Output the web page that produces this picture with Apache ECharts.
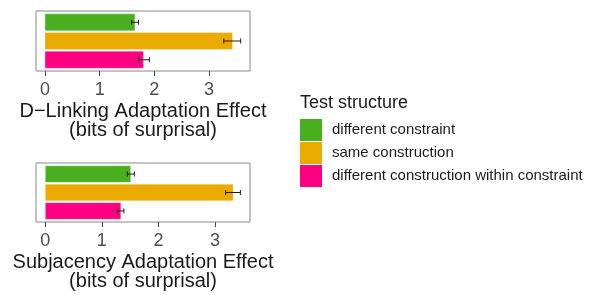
<!DOCTYPE html>
<html>
<head>
<meta charset="utf-8">
<title>Adaptation effect</title>
<script src="https://cdn.jsdelivr.net/npm/echarts@6/dist/echarts.min.js"></script>
<style>
  html,body{margin:0;padding:0;background:#fff}
  #main{width:590px;height:295px}
</style>
</head>
<body>
<div id="main"></div>
<script>
// test structures (legend order, top to bottom in each panel)
var structures = ['different constraint', 'same construction', 'different construction within constraint'];
var colors = ['#4aaf1e', '#eaaa00', '#ff0080'];

// D-Linking panel: mean, lower, upper
var dlinkMean = [1.645, 3.43, 1.80];
var dlinkLow  = [1.585, 3.27, 1.71];
var dlinkHigh = [1.71, 3.58, 1.91];

// Subjacency panel
var subjMean = [1.51, 3.32, 1.335];
var subjLow  = [1.45, 3.19, 1.275];
var subjHigh = [1.575, 3.45, 1.39];

var xTicks = [0, 1, 2, 3];

var chart = echarts.init(document.getElementById('main'));

function renderBar(params, api) {
  var v = api.value(0), idx = api.value(1), lo = api.value(2), hi = api.value(3);
  var p0 = api.coord([0, idx - 0.45]);
  var p1 = api.coord([v, idx + 0.45]);
  var y = api.coord([0, idx])[1];
  var xl = api.coord([lo, idx])[0];
  var xh = api.coord([hi, idx])[0];
  var cap = 2.5;
  var black = {stroke: '#1a1a1a', lineWidth: 1};
  return {
    type: 'group',
    children: [
      {type: 'rect', shape: {x: p0[0], y: Math.min(p0[1], p1[1]), width: p1[0] - p0[0], height: Math.abs(p1[1] - p0[1])},
       style: {fill: api.visual('color'), stroke: 'rgba(255,255,255,0.6)', lineWidth: 0.5}},
      {type: 'line', shape: {x1: xl, y1: y, x2: xh, y2: y}, style: black},
      {type: 'line', shape: {x1: xl, y1: y - cap, x2: xl, y2: y + cap}, style: black},
      {type: 'line', shape: {x1: xh, y1: y - cap, x2: xh, y2: y + cap}, style: black}
    ]
  };
}

var series = [];
[[dlinkMean, dlinkLow, dlinkHigh], [subjMean, subjLow, subjHigh]].forEach(function (d, g) {
  structures.forEach(function (name, i) {
    series.push({
      name: name,
      type: 'custom',
      xAxisIndex: g,
      yAxisIndex: g,
      itemStyle: {color: colors[i]},
      renderItem: renderBar,
      data: [[d[0][i], i, d[1][i], d[2][i]]],
      silent: true
    });
  });
});

function xAxis(g, name) {
  return {
    type: 'value', gridIndex: g, min: -0.165, max: g === 0 ? 3.75 : 3.62,
    interval: 1, position: 'bottom',
    name: name, nameLocation: 'middle', nameGap: 31,
    nameTextStyle: {fontFamily: 'Liberation Sans', fontSize: 20, color: '#1a1a1a', lineHeight: 19},
    axisLine: {show: false, onZero: false},
    axisTick: {show: true, length: 5, lineStyle: {color: '#444'},
      customValues: xTicks},
    axisLabel: {fontFamily: 'Liberation Sans', fontSize: 18, color: '#4d4d4d', margin: 10,
      customValues: xTicks, showMinLabel: true, showMaxLabel: true},
    splitLine: {show: false}
  };
}

function yAxis(g) {
  return {
    type: 'value', gridIndex: g, min: -0.6, max: 2.6, inverse: true,
    axisLine: {show: false, onZero: false}, axisTick: {show: false}, axisLabel: {show: false},
    splitLine: {show: false}
  };
}

chart.setOption({
  animation: false,
  title: {
    text: 'Test structure', left: 295, top: 89,
    textStyle: {fontFamily: 'Liberation Sans', fontSize: 18, fontWeight: 'normal', color: '#1a1a1a'}
  },
  legend: {
    orient: 'vertical', left: 295, top: 114,
    itemWidth: 22, itemHeight: 22, itemGap: 1,
    icon: 'rect', selectedMode: false,
    data: structures,
    textStyle: {fontFamily: 'Liberation Sans', fontSize: 15, color: '#1a1a1a', padding: [0, 0, 0, 5]}
  },
  grid: [
    {left: 36, top: 11, width: 214, height: 60, show: true, borderColor: '#888', borderWidth: 1, backgroundColor: '#fff'},
    {left: 36, top: 163, width: 214, height: 59, show: true, borderColor: '#888', borderWidth: 1, backgroundColor: '#fff'}
  ],
  xAxis: [
    xAxis(0, 'D\u2212Linking Adaptation Effect\n(bits of surprisal)'),
    xAxis(1, 'Subjacency Adaptation Effect\n(bits of surprisal)')
  ],
  yAxis: [yAxis(0), yAxis(1)],
  series: series
});
</script>
</body>
</html>
